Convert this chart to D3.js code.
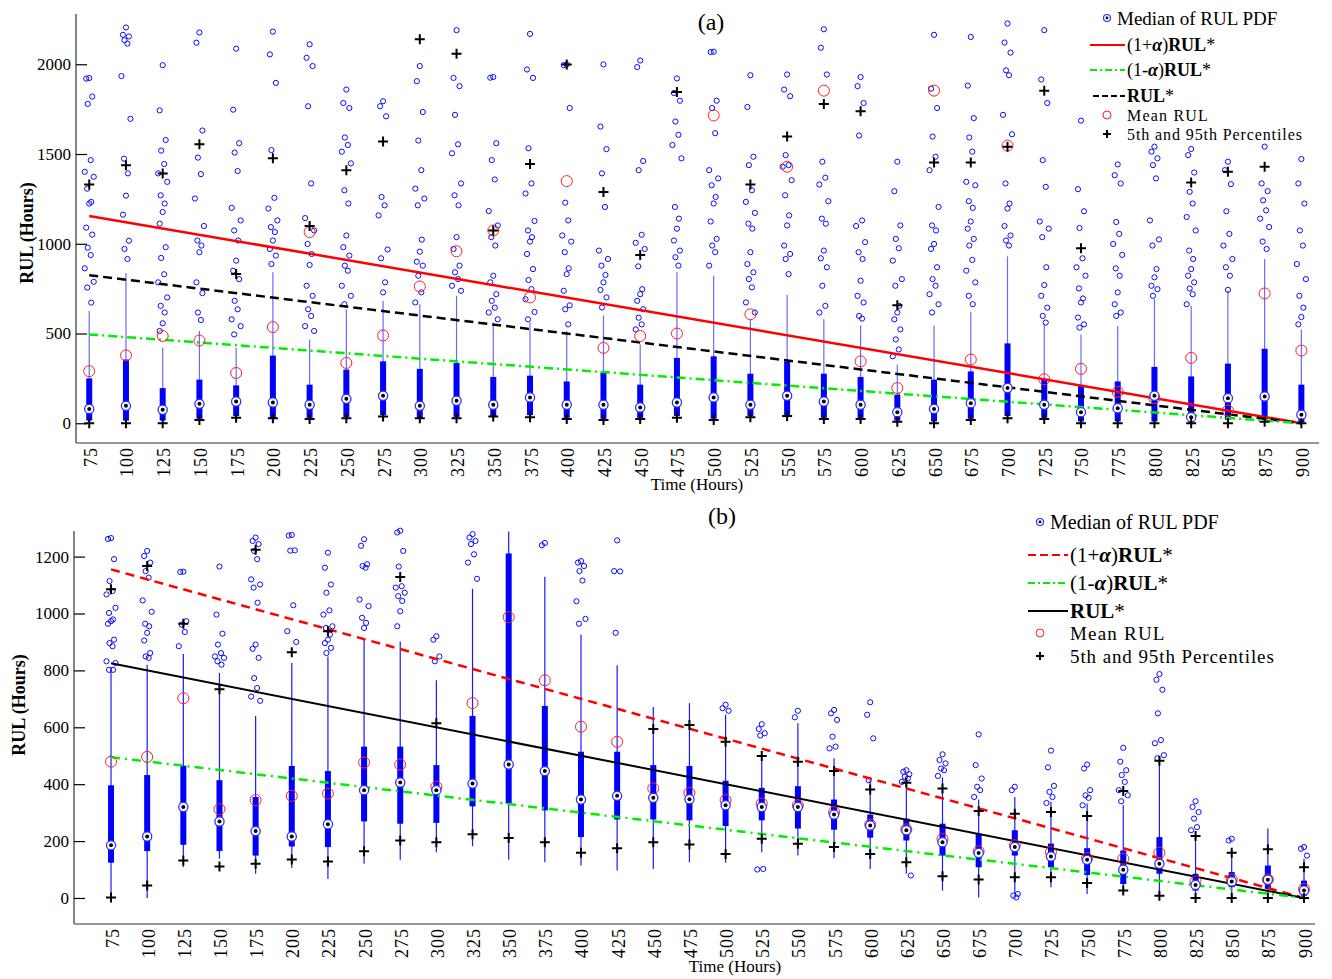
<!DOCTYPE html>
<html><head><meta charset="utf-8">
<script src="https://cdn.jsdelivr.net/npm/d3@7"></script>
<style>body{margin:0;background:#fff}svg{display:block}text{font-family:"Liberation Serif","DejaVu Serif",serif}</style>
</head><body><svg id="c" width="1332" height="979"></svg>
<script>
// ---------- Data ----------
const times = [75,100,125,150,175,200,225,250,275,300,325,350,375,400,425,450,475,500,525,550,575,600,625,650,675,700,725,750,775,800,825,850,875,900];
const refT = [75, 900];
const rulStar = [825, 0];
const rulUpper = [1155, 0];
const rulLower = [495, 0];

// Panel (a)
const q1A  = [15,15,15,25,40,30,30,35,45,30,35,40,45,30,25,30,40,25,40,45,30,30,15,10,25,40,30,10,10,10,5,20,20,5];
const medA = [80,97,75,108,121,116,103,136,153,97,125,103,144,103,103,88,116,144,103,153,121,103,62,80,112,196,103,62,84,153,34,140,149,47];
const q3A  = [250,355,196,243,211,377,215,299,345,303,336,258,265,233,284,215,364,373,276,345,276,258,159,243,289,445,247,209,233,314,261,332,415,215];
const wloA = [0,0,0,0,10,0,0,0,10,0,0,10,10,0,0,0,10,0,10,10,0,0,0,0,0,0,0,0,0,0,0,0,0,0];
const whiA = [625,837,420,514,420,841,467,635,682,663,710,561,561,514,601,439,841,822,579,714,579,545,327,545,620,930,551,495,542,691,654,738,915,523];
const meanA = [290,378,486,461,280,536,1065,336,489,762,958,1074,701,1349,420,486,500,1715,607,1429,1853,345,196,1853,355,1547,245,303,175,140,364,70,723,405];
const p5A  = [0,0,0,18,31,28,24,28,37,28,28,37,34,24,18,24,31,18,34,41,24,24,9,0,18,28,24,0,0,0,0,0,9,0];
const p95A = [1330,1437,1392,1554,831,1476,1099,1410,1570,2139,2059,1074,1444,1999,1289,938,1846,null,1330,1597,1779,1738,657,1453,1453,1540,1853,975,null,null,1341,1401,1429,null];
const outA = [
 [1923,1920,1820,1779,1466,1401,1373,1307,1233,1224,1090,1051,978,937,863,788,756,672],
 [2205,2164,2155,2134,2115,1934,1696,1474,1392,1268,1162,1017,971,915],
 [1995,1743,1578,1519,1444,1392,1345,1270,1224,1177,1112,981,921,830,785,701,654,617,557,514],
 [2177,2120,1631,1480,1388,1252,1099,1018,990,953,785,725,617,575],
 [2087,1747,1560,1508,1405,1200,1130,1074,1018,906,850,803,682,635,579,541,495],
 [2182,2055,1896,1522,1256,1196,1130,1093,1065,1018,971,934,887],
 [2111,2036,1990,1766,1336,1143,1074,999,943,882,766,710,635,598,541,514],
 [1859,1784,1756,1592,1550,1513,1448,1298,1224,1046,981,934,878,850,766,710,663],
 [1794,1766,1710,1261,1214,1158,968,919,785,729],
 [1990,1906,1734,1575,1410,1307,1252,1214,1023,956,900,878,822,729,673],
 [2190,1924,1878,1718,1554,1504,1336,1270,1214,1037,971,878,841,803,766,738],
 [1929,1925,1560,1466,1358,1182,1102,1037,990,822,785,719,682,644,617,579],
 [2169,1971,1924,1532,1336,1280,1127,1074,1037,1012,943,859,798,747,691,620,579],
 [1999,1995,1756,1229,1130,1046,1012,953,863,831,738,657,635,551],
 [1999,1653,1527,1392,1205,962,915,878,826,785,743,701,645],
 [2021,1984,1461,1410,1050,1005,971,874,747,719,682,635,588,551,523],
 [1921,1840,1797,1681,1607,1550,1476,1205,1140,1084,1018,962,925,878],
 [2070,2068,1797,1756,1616,1410,1364,1326,1261,1224,1124,1027,990,953,878],
 [1939,1762,1485,1438,1298,1233,1172,1112,1084,953,887,841,803,757,673,617],
 [1943,1859,1822,1494,1438,1429,1354,1270,1158,1102,990,943,915,831],
 [2195,2092,1943,1457,1368,1330,1237,1140,1112,962,919,869,766,654,617],
 [1929,1878,1784,1603,1130,1099,1009,953,915,794,710,673,598,583],
 [1457,1293,1102,1027,975,906,803,766,654,617,579,523,467,411,373],
 [2164,1864,1756,1597,1485,1410,1205,1102,1074,999,971,869,803,766,719,663,617],
 [2152,1881,1700,1592,1513,1345,1326,1237,1200,1124,1084,1027,990,910,850,785,710,663],
 [2227,2121,2065,1966,1939,1718,1610,1336,1224,1196,1099,1046,1018,990],
 [2190,1915,1784,1466,1317,1124,1084,1037,869,770,710,644,598,561],
 [1686,1304,1181,1088,919,869,822,751,695,673,589,551,533],
 [1442,1382,1336,1121,1055,999,938,863,822,729,663,617,598],
 [1541,1513,1476,1438,1364,1130,1024,990,859,813,766,747,710],
 [1528,1494,1397,1289,1224,1149,1074,962,915,859,822,785,751,719,663],
 [1457,1410,1332,1181,1055,990,915,869,822,743],
 [1541,1336,1293,1242,1186,1140,1093,1012,971],
 [1472,1336,1224,1074,990,887,803,710,644,592,551]
];
const yTicksA = [0,500,1000,1500,2000];

// Panel (b)
const q1B  = [124,165,187,165,149,181,179,269,261,264,322,332,308,214,276,276,273,253,273,244,240,212,202,149,108,149,108,81,49,85,26,38,32,8];
const medB = [185,216,320,269,235,216,259,379,406,379,402,469,446,346,359,352,347,326,320,320,293,255,238,196,158,179,146,134,99,120,46,58,64,26];
const q3B  = [396,432,465,414,355,464,446,532,532,467,640,1211,675,514,514,467,464,412,387,393,346,293,279,261,226,238,191,175,167,214,85,91,114,61];
const wloB = [0,0,108,138,85,105,67,120,134,161,182,134,126,114,97,102,126,124,161,149,140,102,85,26,2,14,38,14,20,8,0,0,0,0];
const whiB = [796,820,858,791,640,826,849,914,902,765,1087,1288,1129,926,818,671,685,644,502,614,491,414,402,424,346,355,338,332,326,485,214,161,244,138];
const meanB = [479,496,702,312,344,359,367,476,469,391,685,987,765,602,549,385,369,344,332,326,302,258,241,208,164,185,161,140,138,159,58,65,65,32];
const p5B  = [2,44,132,111,120,135,128,164,202,196,224,211,196,159,175,196,188,155,208,191,179,155,126,76,65,73,73,53,26,8,0,0,0,0];
const p95B = [1085,1167,964,734,1224,864,938,null,1128,614,null,null,null,null,null,594,608,549,499,479,446,381,405,385,306,296,302,288,376,482,218,159,171,108];
const outB = [
 [1265,1262,1191,1114,1079,1067,1020,1002,979,973,964,908,896,885,832,826,802,802],
 [1220,1202,1179,1149,1126,1046,1006,964,955,932,905,861,849,844],
 [1147,1146,973,961,935,885],
 [1165,996,929,891,861,849,844,832,820],
 [1267,1255,1244,1220,1191,1120,1102,1091,1038,891,876,844,773,738,708,693],
 [1276,1274,1222,1221,1029,938,900],
 [1214,1161,1102,1073,1011,996,955,949,926,908,896,879,861],
 [1261,1238,1173,1167,1161,1049,1026,985,967,949],
 [1291,1285,1220,1165,1096,1091,1073,1061,1044,1008,955],
 [920,908,849,832],
 [1279,1267,1255,1244,1208,1179,1122],
 [],
 [1248,1240],
 [1184,1179,1167,1149,1116,1043,981,964],
 [1257,1149,1148,932],
 [],
 [],
 [679,667,658],
 [611,594,579,571,102,100],
 [658,635],
 [661,649,626,567,532,526],
 [688,644,561,414],
 [449,444,435,426,420,408,79],
 [505,485,473,455,449,429],
 [575,467,420,391,379,355],
 [391,379,14,8,2],
 [518,459,394,373,355,334],
 [469,455,379,361,352,326],
 [528,479,449,432,408,379,361,340],
 [787,767,732,649,555,544,502,491],
 [340,320,302,279,249,238],
 [208,202],
 [],
 [179,173,149]
];
const yTicksB = [0,200,400,600,800,1000,1200];

const xTickLabels = times.map(String);

// ---------- Drawing ----------
const svg = d3.select("#c");
const jit = [0,-3,3,-1.5,1.5,-4.5,4.5,-2,2];

function plus(g, x, y, s){
  g.append("path").attr("d",`M${x-s},${y}H${x+s}M${x},${y-s}V${y+s}`)
   .attr("stroke","#000").attr("stroke-width",2).attr("fill","none");
}

function drawPanel(o){
  const x = d3.scaleLinear().domain(o.xDom).range([o.left,o.right]);
  const y = d3.scaleLinear().domain(o.yDom).range([o.bottom,o.top]);
  const g = svg.append("g");

  g.append("line").attr("x1",o.left).attr("x2",o.left).attr("y1",o.top).attr("y2",o.bottom).attr("stroke","#333").attr("stroke-width",1.2);
  g.append("line").attr("x1",o.left).attr("x2",o.right).attr("y1",o.bottom).attr("y2",o.bottom).attr("stroke","#333").attr("stroke-width",1.2);
  const ya = d3.axisLeft(y).tickValues(o.yTicks).tickSize(-11).tickPadding(5).tickFormat(d3.format("d"));
  const yg = g.append("g").attr("transform",`translate(${o.left},0)`).call(ya);
  yg.select(".domain").remove();
  yg.selectAll(".tick line").attr("stroke","#000").attr("stroke-width",1.2);
  yg.selectAll(".tick text").attr("font-family","Liberation Serif").attr("font-size",o.yFont).attr("fill","#000").attr("x",-5);
  const xa = d3.axisBottom(x).tickValues(times).tickSize(0).tickFormat((d,i)=>xTickLabels[i]);
  const xg = g.append("g").attr("transform",`translate(0,${o.bottom})`).call(xa);
  xg.select(".domain").remove();
  xg.selectAll(".tick text").attr("font-family","Liberation Serif").attr("font-size",18).attr("fill","#000")
    .attr("letter-spacing",1).attr("text-anchor","end").attr("dy",null)
    .attr("transform","translate(7,4) rotate(-90)").attr("x",0).attr("y",0);

  g.selectAll(".wh").data(times).enter().append("line")
   .attr("x1",d=>x(d)).attr("x2",d=>x(d))
   .attr("y1",(d,i)=>y(o.wlo[i])).attr("y2",(d,i)=>y(o.whi[i]))
   .attr("stroke",o.whColor).attr("stroke-width",1.2);
  g.selectAll(".bx").data(times).enter().append("rect")
   .attr("x",d=>x(d)-3).attr("width",6)
   .attr("y",(d,i)=>y(o.q3[i])).attr("height",(d,i)=>y(o.q1[i])-y(o.q3[i]))
   .attr("fill","#0000ff");
  times.forEach((t,i)=>{
    o.out[i].forEach((v,k)=>{
      g.append("circle").attr("cx",x(t)+jit[k%jit.length]).attr("cy",y(v)).attr("r",2.6)
       .attr("fill","none").attr("stroke","#0a0aff").attr("stroke-width",1);
    });
  });
  const ln = d3.line().x(d=>x(d[0])).y(d=>y(d[1]));
  const mk = arr => refT.map((t,i)=>[t,arr[i]]);
  o.lines.forEach(L=>{
    g.append("path").attr("d",ln(mk(L.data))).attr("fill","none").attr("stroke",L.color)
     .attr("stroke-width",L.w).attr("stroke-dasharray",L.dash||null);
  });
  g.selectAll(".mn").data(times).enter().append("circle")
   .attr("cx",d=>x(d)).attr("cy",(d,i)=>y(o.mean[i])).attr("r",5.5)
   .attr("fill","none").attr("stroke","#ff2020").attr("stroke-width",1);
  times.forEach((t,i)=>{
    g.append("circle").attr("cx",x(t)).attr("cy",y(o.med[i])).attr("r",4.6).attr("fill","#fff").attr("stroke","#3030ff").attr("stroke-width",1.3);
    g.append("circle").attr("cx",x(t)).attr("cy",y(o.med[i])).attr("r",2).attr("fill","#000");
  });
  times.forEach((t,i)=>{
    plus(g, x(t), y(o.p5[i]), 5);
    if(o.p95[i]!=null) plus(g, x(t), y(o.p95[i]), 5);
  });

  g.append("text").attr("x",o.titleX).attr("y",o.titleY).attr("font-size",24).attr("text-anchor","middle").text(o.title);
  g.append("text").attr("x",o.xlabX).attr("y",o.xlabY).attr("font-size",17).attr("text-anchor","middle").text("Time (Hours)");
  g.append("text").attr("transform",`translate(${o.ylabX},${o.ylabY}) rotate(-90)`).attr("font-size",18).attr("font-weight","bold")
   .attr("text-anchor","middle").text("RUL (Hours)");

  const lg = g.append("g");
  const rowY = o.legRows;
  lg.append("circle").attr("cx",o.legMarkX).attr("cy",rowY[0]).attr("r",3.5).attr("fill","#fff").attr("stroke","#3030ff").attr("stroke-width",1.2);
  lg.append("circle").attr("cx",o.legMarkX).attr("cy",rowY[0]).attr("r",1.4).attr("fill","#000");
  lg.append("text").attr("x",o.legMarkX+10).attr("y",rowY[0]).attr("dy","0.35em").attr("font-size",o.legFont1).text("Median of RUL PDF");
  o.legLines.forEach((L,k)=>{
    const yy = rowY[k+1];
    lg.append("line").attr("x1",L.x1).attr("x2",o.legTextX-2).attr("y1",yy).attr("y2",yy)
      .attr("stroke",L.color).attr("stroke-width",2).attr("stroke-dasharray",L.dash||null);
    const t = lg.append("text").attr("x",o.legTextX).attr("y",yy).attr("dy","0.35em").attr("font-size",o.legFont2);
    if(L.pre){ t.append("tspan").text(L.pre); t.append("tspan").attr("font-style","italic").attr("font-weight","bold").text("α"); t.append("tspan").text(")"); }
    t.append("tspan").attr("font-weight","bold").text("RUL");
    t.append("tspan").text("*");
  });
  lg.append("circle").attr("cx",o.legMarkX).attr("cy",rowY[4]).attr("r",4).attr("fill","none").attr("stroke","#ff2020").attr("stroke-width",1);
  lg.append("text").attr("x",o.legTextX).attr("y",rowY[4]).attr("dy","0.35em").attr("font-size",o.legFont3).attr("letter-spacing",1.2).text("Mean RUL");
  plus(lg, o.legMarkX, rowY[5], 4);
  lg.append("text").attr("x",o.legTextX).attr("y",rowY[5]).attr("dy","0.35em").attr("font-size",o.legFont3).attr("letter-spacing",0.9).text("5th and 95th Percentiles");
}

drawPanel({
  xDom:[66,912], left:76, right:1319, yDom:[-110,2280], top:14, bottom:443,
  yTicks:yTicksA, yFont:17, whColor:"#6a6aff",
  q1:q1A, med:medA, q3:q3A, wlo:wloA, whi:whiA, mean:meanA, p5:p5A, p95:p95A, out:outA,
  lines:[
    {data:rulUpper, color:"#ff0000", w:2.5},
    {data:rulStar, color:"#000", w:2.5, dash:"9,5"},
    {data:rulLower, color:"#00ee00", w:2.5, dash:"9,4,2,4"}
  ],
  title:"(a)", titleX:711, titleY:30, xlabX:697, xlabY:490, ylabX:33, ylabY:233,
  legMarkX:1107, legTextX:1127, legRows:[18,45,70,96,115,134],
  legFont1:19, legFont2:18, legFont3:16,
  legLines:[
    {x1:1090, color:"#ff0000", pre:"(1+"},
    {x1:1090, color:"#00ee00", dash:"7,3,2,3", pre:"(1-"},
    {x1:1093, color:"#000", dash:"6,3"}
  ]
});

drawPanel({
  xDom:[49.4,907.6], left:74, right:1315, yDom:[-91.5,1290], top:531, bottom:924,
  yTicks:yTicksB, yFont:17, whColor:"#1a1aff",
  q1:q1B, med:medB, q3:q3B, wlo:wloB, whi:whiB, mean:meanB, p5:p5B, p95:p95B, out:outB,
  lines:[
    {data:rulUpper, color:"#ff0000", w:2.5, dash:"9,6"},
    {data:rulStar, color:"#000", w:2},
    {data:rulLower, color:"#00ee00", w:2.5, dash:"9,5,2,5"}
  ],
  title:"(b)", titleX:722, titleY:524, xlabX:735, xlabY:972, ylabX:25, ylabY:705,
  legMarkX:1040, legTextX:1070, legRows:[522,555,583,611,633,656],
  legFont1:20, legFont2:21, legFont3:19,
  legLines:[
    {x1:1028, color:"#ff0000", dash:"8,4", pre:"(1+"},
    {x1:1028, color:"#00ee00", dash:"7,3,2,3", pre:"(1-"},
    {x1:1028, color:"#000"}
  ]
});
</script></body></html>
